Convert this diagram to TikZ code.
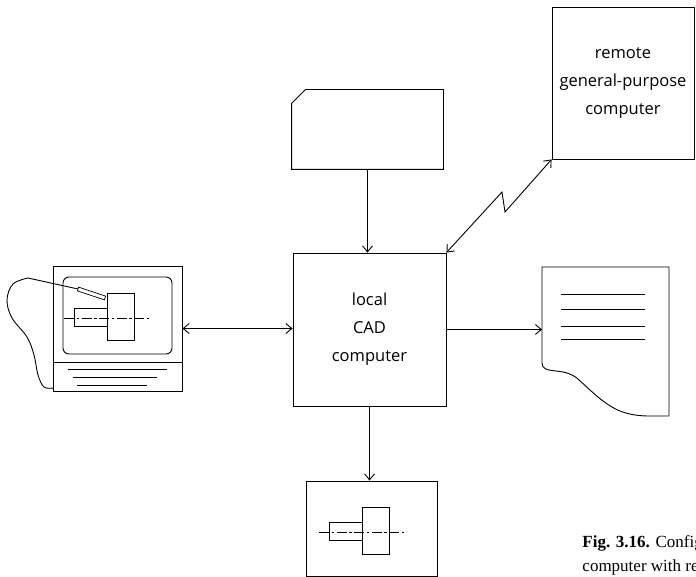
\documentclass[tikz,border=0pt]{standalone}
\usepackage{fontspec}
\setmainfont{Liberation Serif}
\newfontfamily\lettering{Open Sans}
\usetikzlibrary{arrows.meta}

\tikzset{
  unit/.style={draw, align=center, inner sep=0pt,
    font=\lettering\fontsize{16.5}{28}\selectfont},
  feed/.style={-{Straight Barb[length=6pt,width=10pt]}},
  duplex/.style={{Straight Barb[length=6pt,width=10pt]}-{Straight Barb[length=6pt,width=10pt]}},
  centre line/.style={line width=0.8pt, dash pattern=on 10pt off 2.5pt on 2.5pt off 2.5pt},
  caption text/.style={anchor=base west, inner sep=0pt,
    font=\fontsize{17}{23}\selectfont},
  pics/part/.style={code={
    \draw (0,0) rectangle (27,47);
    \draw (-33,15) rectangle (0,33);
    \draw[centre line] (-43,25) -- (44,25);
  }}
}

\begin{document}
\begin{tikzpicture}[x=1pt, y=-1pt, line width=0.9pt]
\clip (0,0) rectangle (696,577);

% the two computers
\node[unit, minimum width=153pt, minimum height=153pt] (local) at (369.5,329.5) {local\\CAD\\computer};
\node[unit, minimum width=142pt, minimum height=152pt] (remote) at (623,83) {remote\\general-purpose\\computer};

% card input
\node[minimum width=151pt, minimum height=79pt] (card) at (367.5,129.5) {};
\draw ([yshift=-14pt]card.north west) -- ([xshift=14pt]card.north west)
  -- (card.north east) -- (card.south east) -- (card.south west) -- cycle;

% graphics terminal with light pen
\node[draw, minimum width=129pt, minimum height=125pt] (monitor) at (117.5,328.5) {};
\draw[rounded corners=6pt] (63,277) rectangle (172,354);
\draw (monitor.west |- 0,362) -- (monitor.east |- 0,362);
\draw (68,369) -- (167,369) (73,377) -- (157,377) (77,385) -- (147,385);
\pic at (107,293) {part};
\draw[line width=0.7pt] (78.6,287.1) -- (105.6,296.1) -- (104.4,299.9) -- (77.4,290.9) -- cycle;
\draw (78,289) -- plot[smooth, tension=0.6] coordinates
  {(28,278) (13,284) (7,300) (12,318) (27,337) (34,355) (38,375) (44,387) (53,388)};

% printed listing
\coordinate (listing) at (542,267);
\draw (listing) -- (542,363)
  .. controls (542,369) and (547,370) .. (556,371)
  .. controls (566,372) and (572,374) .. (578,379)
  .. controls (590,390) and (605,405) .. (620,411)
  .. controls (630,415) and (640,416) .. (650,416)
  -- (669,416) -- (669,267) -- cycle;
\foreach \y in {294,309,326,339}
  \draw (561,\y) -- (645,\y);

% plotted drawing
\node[draw, minimum width=131pt, minimum height=95pt] (plot) at (371.5,528.5) {};
\pic at (362,507) {part};

% data paths
\coordinate (zigA) at (505,212);
\coordinate (zigB) at (502,192);
\draw[feed] (card.south) -- (card.south |- local.north);
\draw[feed] (local.south) -- (local.south |- plot.north);
\draw[feed] (local.east) -- (local.east -| listing);
\draw[duplex] (monitor.east) -- (monitor.east -| local.west);
\draw[duplex] (remote.south west) -- (zigA) -- (zigB) -- (local.north east);

\node[caption text] (caption) at (582,547) {\textbf{Fig. 3.16.} Configuration};
\node[caption text] (caption-2) at (582,571) {computer with remote};
\end{tikzpicture}
\end{document}
